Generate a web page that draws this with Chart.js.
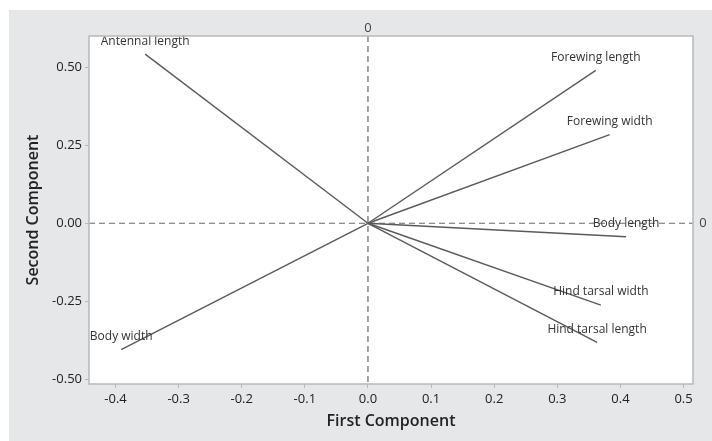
<!DOCTYPE html>
<html>
<head>
<meta charset="utf-8">
<script src="https://cdn.jsdelivr.net/npm/chart.js@4/dist/chart.umd.min.js"></script>
<style>
  html, body { margin: 0; padding: 0; background: #ffffff; }
  canvas { display: block; }
</style>
</head>
<body>
<canvas id="loadings" width="712" height="441"></canvas>
<script>
// Loading plot: first vs. second principal component
const variables = ['Antennal length', 'Forewing length', 'Forewing width', 'Body length',
                   'Hind tarsal width', 'Hind tarsal length', 'Body width'];
const firstComponent  = [-0.353, 0.361, 0.383, 0.409, 0.369, 0.363, -0.391];
const secondComponent = [0.542, 0.490, 0.284, -0.043, -0.262, -0.382, -0.405];
const xTicks = [-0.4, -0.3, -0.2, -0.1, 0.0, 0.1, 0.2, 0.3, 0.4, 0.5];
const yTicks = [-0.50, -0.25, 0.00, 0.25, 0.50];

const FONT = '"Open Sans", "Noto Sans", sans-serif';
const LINE_COLOR = '#5a5a5a';

// each variable is a vector from the origin to its loading
const datasets = variables.map((name, i) => ({
  label: name,
  data: [{ x: 0, y: 0 }, { x: firstComponent[i], y: secondComponent[i] }],
  showLine: true,
  borderColor: LINE_COLOR,
  borderWidth: 1.4,
  pointRadius: 0,
  fill: false
}));

const frame = {
  id: 'frame',
  beforeDraw(chart) {
    const { ctx, chartArea: a } = chart;
    ctx.save();
    ctx.fillStyle = '#ffffff';
    ctx.fillRect(0, 0, chart.width, chart.height);
    ctx.fillStyle = '#e6e7e8';
    ctx.fillRect(9, 10, chart.width - 9, chart.height - 10);
    ctx.fillStyle = '#ffffff';
    ctx.fillRect(a.left, a.top, a.right - a.left, a.bottom - a.top);
    ctx.restore();
  },
  beforeDatasetsDraw(chart) {
    const { ctx, chartArea: a, scales: { x, y } } = chart;
    const x0 = x.getPixelForValue(0);
    const y0 = y.getPixelForValue(0);
    ctx.save();
    ctx.strokeStyle = '#6a6a6a';
    ctx.lineWidth = 1.2;
    ctx.setLineDash([6, 4]);
    ctx.beginPath();
    ctx.moveTo(x0, a.top);
    ctx.lineTo(x0, a.bottom);
    ctx.moveTo(a.left, y0);
    ctx.lineTo(a.right, y0);
    ctx.stroke();
    ctx.setLineDash([]);
    ctx.fillStyle = '#444444';
    ctx.font = '13px ' + FONT;
    ctx.textAlign = 'center';
    ctx.textBaseline = 'middle';
    ctx.fillText('0', x0, a.top - 8);
    ctx.fillText('0', a.right + 10, y0);
    ctx.restore();
  },
  afterDraw(chart) {
    const { ctx, chartArea: a } = chart;
    ctx.save();
    ctx.strokeStyle = '#b8b9ba';
    ctx.lineWidth = 1.5;
    ctx.strokeRect(a.left, a.top, a.right - a.left, a.bottom - a.top);
    ctx.restore();
  }
};

const vectorLabels = {
  id: 'vectorLabels',
  afterDatasetsDraw(chart) {
    const { ctx } = chart;
    ctx.save();
    ctx.fillStyle = '#333333';
    ctx.font = '12px ' + FONT;
    ctx.textAlign = 'center';
    ctx.textBaseline = 'middle';
    chart.data.datasets.forEach((ds, i) => {
      const tip = chart.getDatasetMeta(i).data[1];
      ctx.fillText(ds.label, tip.x, tip.y - 13);
    });
    ctx.restore();
  }
};

new Chart(document.getElementById('loadings'), {
  type: 'scatter',
  data: { datasets },
  plugins: [frame, vectorLabels],
  options: {
    responsive: false,
    animation: false,
    layout: { padding: { top: 36, right: 19, left: 0, bottom: 0 } },
    plugins: { legend: { display: false }, tooltip: { enabled: false } },
    scales: {
      x: {
        type: 'linear',
        min: -0.442,
        max: 0.515,
        afterBuildTicks(scale) { scale.ticks = xTicks.map(v => ({ value: v })); },
        afterFit(scale) { scale.height = 57; },
        border: { display: false },
        grid: { display: true, drawOnChartArea: false, drawTicks: true, tickLength: 4, color: '#b8b9ba' },
        ticks: {
          color: '#222222',
          padding: 3,
          font: { family: FONT, size: 13 },
          callback: v => v.toFixed(1)
        },
        title: {
          display: true,
          text: 'First Component',
          color: '#222222',
          font: { family: FONT, size: 16, weight: '600' },
          padding: { top: 2, bottom: 10 }
        }
      },
      y: {
        type: 'linear',
        min: -0.515,
        max: 0.600,
        afterBuildTicks(scale) { scale.ticks = yTicks.map(v => ({ value: v })); },
        afterFit(scale) { scale.width = 89; },
        border: { display: false },
        grid: { display: true, drawOnChartArea: false, drawTicks: true, tickLength: 4, color: '#b8b9ba' },
        ticks: {
          color: '#222222',
          padding: 3,
          font: { family: FONT, size: 13 },
          callback: v => v.toFixed(2)
        },
        title: {
          display: true,
          text: 'Second Component',
          color: '#222222',
          font: { family: FONT, size: 16, weight: '600' },
          padding: { top: 24, bottom: 0 }
        }
      }
    }
  }
});
</script>
</body>
</html>
